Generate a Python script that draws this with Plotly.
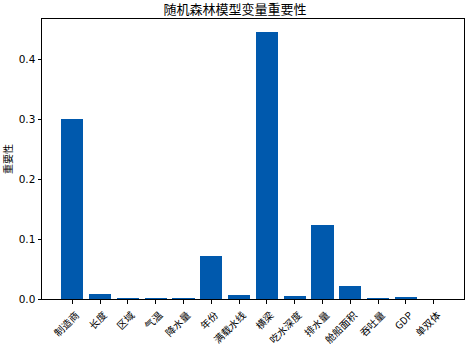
import plotly.graph_objects as go

categories = ["制造商", "长度", "区域", "气温", "降水量", "年份", "满载水线", "横梁",
              "吃水深度", "排水量", "舱船面积", "吞吐量", "GDP", "单双体"]
importance = [0.300, 0.0085, 0.0003, 0.001, 0.0015, 0.0717, 0.0068, 0.4445,
              0.0055, 0.1235, 0.0215, 0.0012, 0.0018, 0.0]
y_ticks = [0.0, 0.1, 0.2, 0.3, 0.4]

font = "Noto Sans CJK SC, DejaVu Sans, sans-serif"

fig = go.Figure(go.Bar(
    x=list(range(len(categories))), y=importance, width=0.8,
    marker=dict(color="#0059AD", line=dict(width=0)),
))

n = len(categories)
span = (n - 1) + 0.8
fig.update_layout(
    width=470, height=344,
    margin=dict(l=42, r=6, t=19, b=45),
    paper_bgcolor="white", plot_bgcolor="white",
    font=dict(family=font, size=10, color="black"),
    title=dict(text="随机森林模型变量重要性", x=0.5, xanchor="center",
               y=1 - 9.5 / 344, yanchor="middle", font=dict(size=13, family=font)),
    showlegend=False,
    bargap=0,
)
fig.update_xaxes(
    range=[-0.4 - 0.05 * span, n - 1 + 0.4 + 0.05 * span],
    tickmode="array", tickvals=list(range(n)), ticktext=categories,
    tickangle=-45, ticks="outside", ticklen=3.5, tickcolor="black",
    showline=True, linecolor="black", linewidth=1, mirror=True,
    showgrid=False, zeroline=False, tickfont=dict(size=10),
    ticklabelshift=4, ticklabelstandoff=2,
    automargin=False,
)
fig.update_yaxes(
    range=[0, max(importance) * 1.05],
    tickmode="array", tickvals=y_ticks, ticktext=[f"{v:.1f}" for v in y_ticks],
    ticks="outside", ticklen=3.5, tickcolor="black",
    showline=True, linecolor="black", linewidth=1, mirror=True,
    showgrid=False, zeroline=False,
    title=dict(text="重要性", font=dict(size=10), standoff=6),
    tickfont=dict(size=10.5, family="DejaVu Sans"),
    automargin=False,
)

fig.write_html("out.html",
               config={"displayModeBar": False},
               post_script="document.body.style.margin='0';document.body.style.overflow='hidden';")
